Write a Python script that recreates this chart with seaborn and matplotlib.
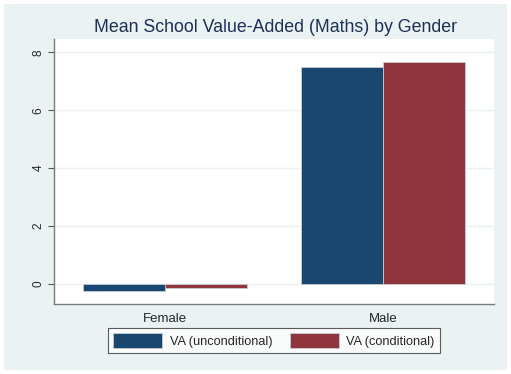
import matplotlib
matplotlib.use("Agg")
import matplotlib.pyplot as plt
import matplotlib.patches as mpatches
import seaborn as sns
import pandas as pd

# data
genders = ["Female", "Male"]
series = ["VA (unconditional)", "VA (conditional)"]
va_uncond = [-0.25, 7.48]
va_cond = [-0.15, 7.67]
y_ticks = [0, 2, 4, 6, 8]

colors = ["#1A476F", "#90353B"]
bg = "#EAF2F3"

df = pd.DataFrame({
    "gender": genders * 2,
    "series": [series[0]] * 2 + [series[1]] * 2,
    "value": va_uncond + va_cond,
})

sns.set_theme(style="white")
plt.rcParams["font.family"] = ["Liberation Sans", "DejaVu Sans"]

W, H = 511, 374
fig = plt.figure(figsize=(W / 100, H / 100), dpi=100)
fig.patch.set_facecolor("white")
# outer grey-blue region, stata style
fig.patches.append(mpatches.Rectangle((4 / W, 4 / H), 503 / W, 366 / H,
                                      transform=fig.transFigure, facecolor=bg,
                                      edgecolor="none", zorder=-10))

ax = fig.add_axes([54 / W, (H - 303.7) / H, 440 / W, (303.7 - 39) / H])
ax.set_facecolor("white")
ax.set_axisbelow(True)

sns.barplot(data=df, x="gender", y="value", hue="series", order=genders,
            hue_order=series, palette=colors, width=0.752, gap=0,
            saturation=1, linewidth=0.6, edgecolor="#c8ccd4", legend=False, ax=ax)

ax.set_xlim(-0.509, 1.509)
ax.set_ylim(-0.68, 8.46)
ax.set_yticks(y_ticks)
ax.set_yticklabels([str(t) for t in y_ticks])
ax.yaxis.grid(True, color=bg, linewidth=1.0)
ax.xaxis.grid(False)
ax.set_xlabel("")
ax.set_ylabel("")

for side in ["top", "right"]:
    ax.spines[side].set_visible(False)
for side in ["left", "bottom"]:
    ax.spines[side].set_color("#7a7a7a")
    ax.spines[side].set_linewidth(1.0)

ax.tick_params(axis="y", labelrotation=90, length=4, width=0.8, color="#555555",
               labelsize=8.5, pad=3, left=True)
for lbl in ax.get_yticklabels():
    lbl.set_va("center")
ax.tick_params(axis="x", length=0, labelsize=9.5, pad=7)

fig.text(276 / W, 1 - 28 / H, "Mean School Value-Added (Maths) by Gender",
         ha="center", va="center", fontsize=12.8, color="#1E2E55")

handles = [mpatches.Patch(facecolor=c, edgecolor="#c8ccd4", linewidth=0.6) for c in colors]
leg = fig.legend(handles, series, loc="center", bbox_to_anchor=(274 / W, 1 - 340.5 / H),
                 ncol=2, fontsize=9.2, frameon=True, fancybox=False,
                 handlelength=3.8, handleheight=1.4, handletextpad=0.6,
                 columnspacing=1.4, borderpad=0.4, borderaxespad=0)
leg.get_frame().set_edgecolor("#333333")
leg.get_frame().set_linewidth(0.8)
leg.get_frame().set_facecolor("white")

fig.savefig("out.png", dpi=100, facecolor="white")
